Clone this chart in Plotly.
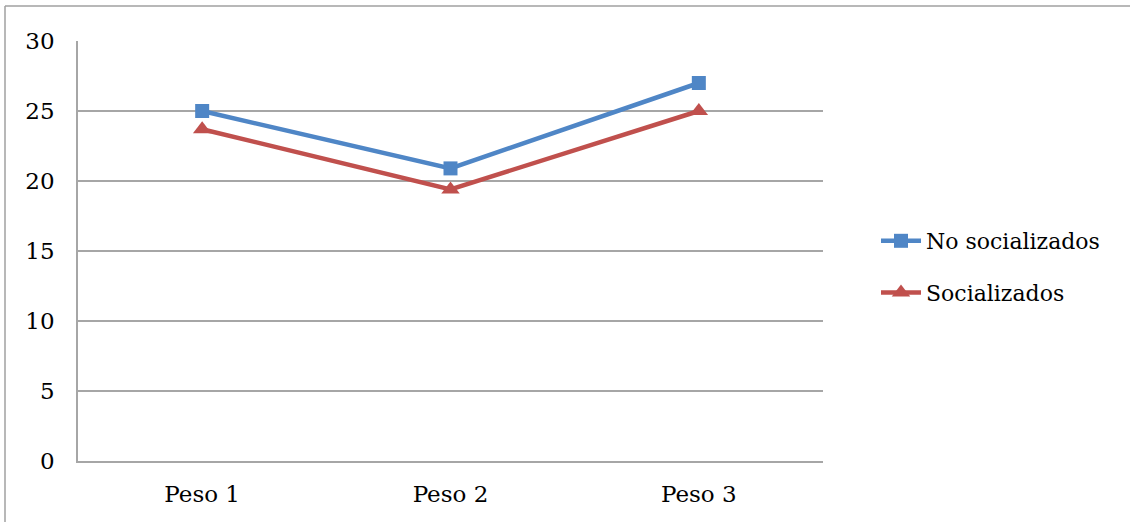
import plotly.graph_objects as go

categories = ["Peso 1", "Peso 2", "Peso 3"]
no_socializados = [25.0, 20.9, 27.0]
socializados = [23.7, 19.4, 25.0]
y_ticks = [0, 5, 10, 15, 20, 25, 30]

W, H = 1130, 522
L, R, T, B = 78, 823, 41, 461  # plot area in pixels
pw, ph = R - L, B - T

def px_x(p):
    return (p - L) / pw

def px_y(p):
    return (B - p) / ph

FONT = "DejaVu Serif"
GRID = "#A6A6A6"

fig = go.Figure()
fig.add_trace(go.Scatter(
    x=categories, y=no_socializados, name="No socializados",
    mode="lines+markers", legendgroup="a",
    line=dict(color="#4F86C6", width=4.5),
    marker=dict(symbol="square", size=14, color="#4F86C6"),
))
fig.add_trace(go.Scatter(
    x=categories, y=socializados, name="Socializados",
    mode="lines+markers", legendgroup="b",
    line=dict(color="#C0504D", width=4.5),
    marker=dict(symbol="triangle-up", size=16, color="#C0504D"),
))

fig.update_layout(
    width=W, height=H,
    margin=dict(l=L, r=W - R, t=T, b=H - B, pad=0),
    paper_bgcolor="white", plot_bgcolor="white",
    font=dict(family=FONT, color="black", size=22),
    showlegend=True,
    legend=dict(
        x=px_x(876), y=px_y(267), xanchor="left", yanchor="middle",
        font=dict(family=FONT, size=22, color="black"),
        traceorder="grouped", tracegroupgap=20,
        itemwidth=40, bgcolor="rgba(0,0,0,0)",
    ),
    xaxis=dict(
        type="category", range=[-0.5, 2.5],
        showgrid=False, showline=True, linecolor=GRID, linewidth=1.5,
        ticks="", tickfont=dict(family=FONT, size=23), ticklabelstandoff=12,
        zeroline=False, fixedrange=True,
    ),
    yaxis=dict(
        range=[0, 30], tickvals=y_ticks,
        showgrid=True, gridcolor=GRID, gridwidth=1.5,
        showline=True, linecolor=GRID, linewidth=1.5,
        ticks="", tickfont=dict(family=FONT, size=23), ticklabelstandoff=17,
        zeroline=False, fixedrange=True,
    ),
    shapes=[
        dict(type="line", xref="paper", yref="paper",
             x0=px_x(5), x1=px_x(W + 5), y0=px_y(6), y1=px_y(6),
             line=dict(color="#A0A0A0", width=1.5)),
        dict(type="line", xref="paper", yref="paper",
             x0=px_x(5), x1=px_x(5), y0=px_y(6), y1=px_y(H + 5),
             line=dict(color="#A0A0A0", width=1.5)),
    ],
)

fig.write_html("out.html")
